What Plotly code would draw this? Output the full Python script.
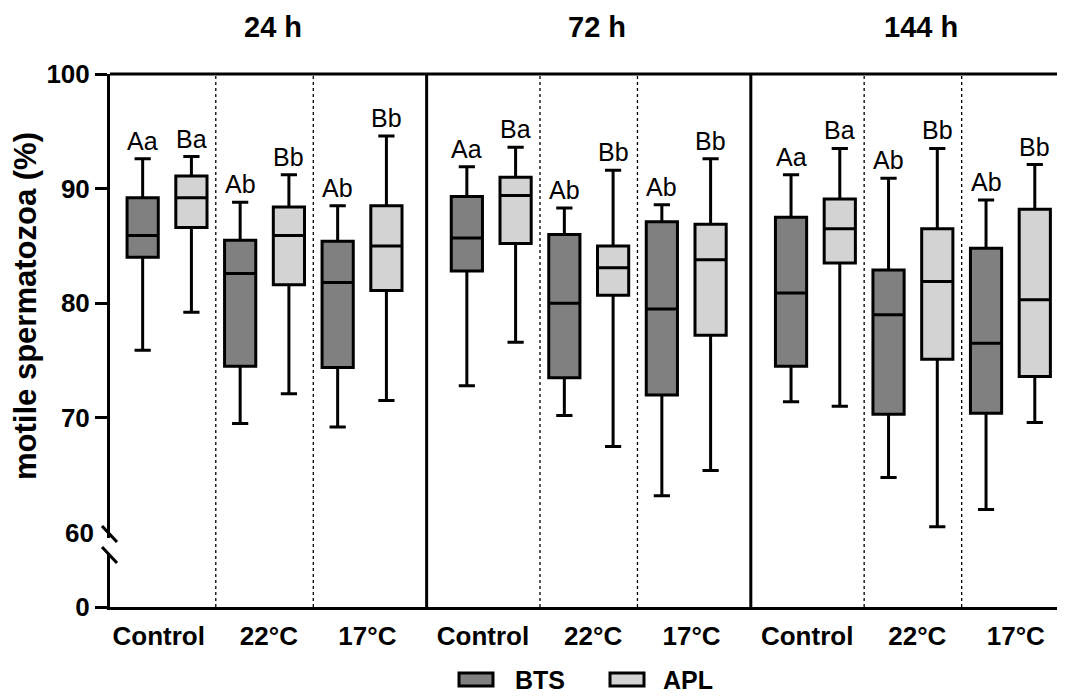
import plotly.graph_objects as go

# ---------------- data ----------------
panels = ["24 h", "72 h", "144 h"]
groups = ["Control", "22°C", "17°C"]
series = ["BTS", "APL"]
series_colors = ["#808080", "#d3d3d3"]

# order: panel (24h,72h,144h) x group (Control,22,17)
bts_upper = [92.6, 88.8, 88.5, 91.9, 88.3, 88.6, 91.2, 90.9, 89.0]
bts_q3 = [89.2, 85.5, 85.4, 89.3, 86.0, 87.1, 87.5, 82.9, 84.8]
bts_med = [85.9, 82.6, 81.8, 85.7, 80.0, 79.5, 80.9, 79.0, 76.5]
bts_q1 = [84.0, 74.5, 74.4, 82.8, 73.5, 72.0, 74.5, 70.3, 70.4]
bts_lower = [75.9, 69.5, 69.2, 72.8, 70.2, 63.2, 71.4, 64.8, 62.0]

apl_upper = [92.8, 91.2, 94.6, 93.6, 91.6, 92.6, 93.5, 93.5, 92.1]
apl_q3 = [91.1, 88.4, 88.5, 91.0, 85.0, 86.9, 89.1, 86.5, 88.2]
apl_med = [89.2, 85.9, 85.0, 89.4, 83.1, 83.8, 86.5, 81.9, 80.3]
apl_q1 = [86.6, 81.6, 81.1, 85.2, 80.7, 77.2, 83.5, 75.1, 73.6]
apl_lower = [79.2, 72.1, 71.5, 76.6, 67.5, 65.4, 71.0, 60.5, 69.6]

bts_letters = ["Aa", "Ab", "Ab", "Aa", "Ab", "Ab", "Aa", "Ab", "Ab"]
apl_letters = ["Ba", "Bb", "Bb", "Ba", "Bb", "Bb", "Ba", "Bb", "Bb"]

upper_ticks = [70, 80, 90, 100]   # ticks drawn with a tick mark
break_tick = [60]                 # label only (break marks replace the tick)
lower_ticks = [0]

# ---------------- layout helpers ----------------
PANEL_STEP = 6.65
LABEL_OFFSET = [0.33, 0.59, 0.61]
FONT = "Liberation Sans, Arial, sans-serif"
BODY = 8            # default page margin of the html body
PLOT_TOP, PLOT_BOT, PLOT_LEFT = 74, 607, 110   # page pixels
H_PLOT = PLOT_BOT - PLOT_TOP
FIG_W, FIG_H = 1065 - BODY, 698 - BODY
W_PLOT = FIG_W + BODY - PLOT_LEFT
PX_PER_UNIT = 48.75

def pos(p, g, s):
    return p * PANEL_STEP + g * 2 + s

def py(page_y):
    return (PLOT_BOT - page_y) / H_PLOT

def px(page_x):
    return (page_x - PLOT_LEFT) / W_PLOT

bts_x = [pos(p, g, 0) for p in range(3) for g in range(3)]
apl_x = [pos(p, g, 1) for p in range(3) for g in range(3)]

fig = go.Figure()

box_common = dict(
    width=0.64,
    whiskerwidth=0.52,
    line=dict(color="#000000", width=3),
    boxpoints=False,
    hoverinfo="skip",
    xaxis="x",
    yaxis="y",
    showlegend=False,
)

fig.add_trace(go.Box(
    name=series[0], x=bts_x, q1=bts_q1, median=bts_med, q3=bts_q3,
    lowerfence=bts_lower, upperfence=bts_upper,
    fillcolor=series_colors[0], **box_common))
fig.add_trace(go.Box(
    name=series[1], x=apl_x, q1=apl_q1, median=apl_med, q3=apl_q3,
    lowerfence=apl_lower, upperfence=apl_upper,
    fillcolor=series_colors[1], **box_common))

# invisible traces so the extra axes are drawn
fig.add_trace(go.Scatter(x=[0], y=[0.5], xaxis="x", yaxis="y2", mode="markers",
                         marker=dict(opacity=0), showlegend=False, hoverinfo="skip"))
fig.add_trace(go.Scatter(x=[0], y=[80], xaxis="x", yaxis="y3", mode="markers",
                         marker=dict(opacity=0), showlegend=False, hoverinfo="skip"))

annotations = []
for xs, ys, labs in [(bts_x, bts_upper, bts_letters), (apl_x, apl_upper, apl_letters)]:
    for xv, yv, t in zip(xs, ys, labs):
        annotations.append(dict(x=xv, y=yv, xref="x", yref="y", text=t, showarrow=False,
                                yanchor="bottom", yshift=2,
                                font=dict(family=FONT, size=25, color="#000")))
for p, t in enumerate(panels):
    annotations.append(dict(x=p * PANEL_STEP + 2.67, y=py(27), xref="x", yref="paper",
                            yanchor="middle", text=t, showarrow=False,
                            font=dict(family=FONT, size=29, color="#000", weight="bold")))

shapes = []
# top frame line
shapes.append(dict(type="line", xref="paper", yref="paper", x0=0, x1=1, y0=1, y1=1,
                   line=dict(color="#000", width=3)))
# panel dividers
for p in range(1, 3):
    xv = p * PANEL_STEP - (PANEL_STEP - 5) / 2
    shapes.append(dict(type="line", xref="x", yref="paper", x0=xv, x1=xv, y0=0, y1=1,
                       line=dict(color="#000", width=3)))
# dotted group separators
for p in range(3):
    for g in range(2):
        xv = pos(p, g, 0) + 1.5
        shapes.append(dict(type="line", xref="x", yref="paper", x0=xv, x1=xv, y0=0, y1=1,
                           line=dict(color="#000", width=1.3, dash="dot")))
# axis break marks
for (ya, yb) in [(526, 542), (547, 563)]:
    shapes.append(dict(type="line", xref="paper", yref="paper",
                       x0=px(102), x1=px(117), y0=py(ya), y1=py(yb),
                       line=dict(color="#000", width=3)))

# legend drawn by hand (wide rectangular swatches as in the reference)
legend_items = [(series[0], series_colors[0], 459, 513), (series[1], series_colors[1], 610, 661)]
for name, col, sx, tx in legend_items:
    shapes.append(dict(type="rect", xref="paper", yref="paper",
                       x0=px(sx), x1=px(sx + 34), y0=py(686), y1=py(673),
                       fillcolor=col, line=dict(color="#000", width=3)))
    annotations.append(dict(x=px(tx), y=py(679.5), xref="paper", yref="paper",
                            xanchor="left", yanchor="middle", text=name, showarrow=False,
                            font=dict(family=FONT, size=25, color="#000", weight="bold")))

x_left = -0.67
x_right = x_left + W_PLOT / PX_PER_UNIT

tickfont = dict(family=FONT, size=26, color="#000", weight="bold")
y_range = [100 - (538 - PLOT_TOP) / 11.46, 100]

fig.update_layout(
    width=FIG_W, height=FIG_H,
    margin=dict(l=PLOT_LEFT - BODY, r=0, t=PLOT_TOP - BODY, b=FIG_H + BODY - PLOT_BOT),
    plot_bgcolor="white", paper_bgcolor="white",
    boxmode="overlay",
    showlegend=False,
    xaxis=dict(
        domain=[0, 1], anchor="y2", range=[x_left, x_right],
        tickvals=[p * PANEL_STEP + g * 2 + LABEL_OFFSET[g] for p in range(3) for g in range(3)],
        ticktext=[g for _ in panels for g in groups],
        ticks="", showline=True, linecolor="#000", linewidth=3,
        showgrid=False, zeroline=False, tickfont=tickfont, ticklabelstandoff=4,
    ),
    yaxis=dict(
        domain=[py(538), 1], anchor="x", range=y_range,
        tickvals=upper_ticks, ticks="outside", ticklen=12, tickwidth=3, tickcolor="#000",
        showline=True, linecolor="#000", linewidth=3, showgrid=False, zeroline=False,
        tickfont=tickfont,
        title=dict(text="motile spermatozoa (%)", standoff=10,
                   font=dict(family=FONT, size=31, color="#000", weight="bold")),
    ),
    yaxis3=dict(
        overlaying="y", anchor="x", range=y_range,
        tickvals=break_tick, ticks="", showline=False, showgrid=False, zeroline=False,
        tickfont=tickfont, ticklabelstandoff=15,
    ),
    yaxis2=dict(
        domain=[0, py(553)], anchor="x", range=[0, 1],
        tickvals=lower_ticks, ticks="outside", ticklen=12, tickwidth=3, tickcolor="#000",
        showline=True, linecolor="#000", linewidth=3, showgrid=False, zeroline=False,
        tickfont=tickfont,
    ),
    annotations=annotations,
    shapes=shapes,
)

fig.write_html("out.html")
